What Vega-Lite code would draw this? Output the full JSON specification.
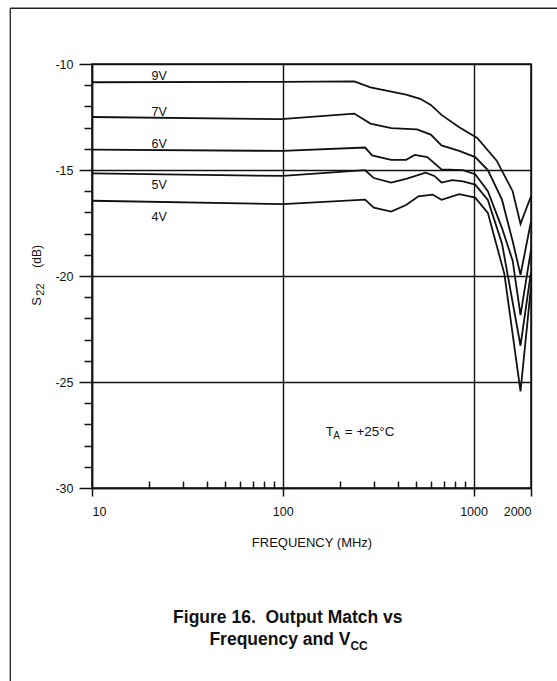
{
  "$schema": "https://vega.github.io/schema/vega-lite/v6.json",
  "width": 439,
  "height": 424,
  "autosize": {"type": "none"},
  "padding": {"left": 92, "top": 64, "right": 26, "bottom": 193},
  "background": "white",
  "config": {
    "font": "Liberation Sans",
    "view": {"stroke": "#111", "strokeWidth": 1.5},
    "axis": {
      "domainColor": "#111",
      "domainWidth": 1.5,
      "tickColor": "#111",
      "tickWidth": 1.5,
      "gridColor": "#111",
      "gridWidth": 1.4,
      "gridOpacity": 1,
      "labelColor": "#111",
      "labelFont": "Liberation Sans",
      "labelFontSize": 12.5,
      "titleColor": "#111",
      "titleFont": "Liberation Sans",
      "titleFontWeight": "normal"
    },
    "text": {"font": "Liberation Sans", "color": "#111"}
  },
  "datasets": {
    "curves": [
      {"vcc": "9V", "f": 10, "db": -10.86},
      {"vcc": "9V", "f": 100, "db": -10.84},
      {"vcc": "9V", "f": 237, "db": -10.82},
      {"vcc": "9V", "f": 288, "db": -11.1},
      {"vcc": "9V", "f": 443, "db": -11.44},
      {"vcc": "9V", "f": 525, "db": -11.64},
      {"vcc": "9V", "f": 597, "db": -11.93},
      {"vcc": "9V", "f": 679, "db": -12.4},
      {"vcc": "9V", "f": 841, "db": -12.98},
      {"vcc": "9V", "f": 1045, "db": -13.49},
      {"vcc": "9V", "f": 1322, "db": -14.56},
      {"vcc": "9V", "f": 1603, "db": -16.0},
      {"vcc": "9V", "f": 1762, "db": -17.54},
      {"vcc": "9V", "f": 2000, "db": -16.24},

      {"vcc": "7V", "f": 10, "db": -12.5},
      {"vcc": "7V", "f": 98, "db": -12.6},
      {"vcc": "7V", "f": 237, "db": -12.34},
      {"vcc": "7V", "f": 288, "db": -12.81},
      {"vcc": "7V", "f": 370, "db": -13.02},
      {"vcc": "7V", "f": 505, "db": -13.08},
      {"vcc": "7V", "f": 597, "db": -13.33},
      {"vcc": "7V", "f": 679, "db": -13.84},
      {"vcc": "7V", "f": 841, "db": -14.1},
      {"vcc": "7V", "f": 1020, "db": -14.39},
      {"vcc": "7V", "f": 1188, "db": -15.0},
      {"vcc": "7V", "f": 1409, "db": -16.4},
      {"vcc": "7V", "f": 1603, "db": -18.36},
      {"vcc": "7V", "f": 1762, "db": -19.94},
      {"vcc": "7V", "f": 2000, "db": -17.43},

      {"vcc": "6V", "f": 10, "db": -14.04},
      {"vcc": "6V", "f": 100, "db": -14.1},
      {"vcc": "6V", "f": 270, "db": -13.94},
      {"vcc": "6V", "f": 294, "db": -14.31},
      {"vcc": "6V", "f": 370, "db": -14.52},
      {"vcc": "6V", "f": 443, "db": -14.52},
      {"vcc": "6V", "f": 492, "db": -14.29},
      {"vcc": "6V", "f": 572, "db": -14.39},
      {"vcc": "6V", "f": 679, "db": -14.97},
      {"vcc": "6V", "f": 880, "db": -15.01},
      {"vcc": "6V", "f": 1020, "db": -15.2},
      {"vcc": "6V", "f": 1188, "db": -16.0},
      {"vcc": "6V", "f": 1409, "db": -17.74},
      {"vcc": "6V", "f": 1603, "db": -19.28},
      {"vcc": "6V", "f": 1762, "db": -21.85},
      {"vcc": "6V", "f": 2000, "db": -18.77},

      {"vcc": "5V", "f": 10, "db": -15.16},
      {"vcc": "5V", "f": 100, "db": -15.28},
      {"vcc": "5V", "f": 270, "db": -15.01},
      {"vcc": "5V", "f": 300, "db": -15.38},
      {"vcc": "5V", "f": 370, "db": -15.59},
      {"vcc": "5V", "f": 443, "db": -15.42},
      {"vcc": "5V", "f": 560, "db": -15.13},
      {"vcc": "5V", "f": 623, "db": -15.28},
      {"vcc": "5V", "f": 679, "db": -15.59},
      {"vcc": "5V", "f": 773, "db": -15.48},
      {"vcc": "5V", "f": 880, "db": -15.54},
      {"vcc": "5V", "f": 1020, "db": -15.69},
      {"vcc": "5V", "f": 1188, "db": -16.41},
      {"vcc": "5V", "f": 1409, "db": -18.46},
      {"vcc": "5V", "f": 1762, "db": -23.29},
      {"vcc": "5V", "f": 2000, "db": -19.8},

      {"vcc": "4V", "f": 10, "db": -16.45},
      {"vcc": "4V", "f": 100, "db": -16.61},
      {"vcc": "4V", "f": 270, "db": -16.4},
      {"vcc": "4V", "f": 300, "db": -16.78},
      {"vcc": "4V", "f": 370, "db": -16.96},
      {"vcc": "4V", "f": 443, "db": -16.65},
      {"vcc": "4V", "f": 514, "db": -16.24},
      {"vcc": "4V", "f": 610, "db": -16.16},
      {"vcc": "4V", "f": 679, "db": -16.41},
      {"vcc": "4V", "f": 841, "db": -16.14},
      {"vcc": "4V", "f": 1020, "db": -16.3},
      {"vcc": "4V", "f": 1188, "db": -17.02},
      {"vcc": "4V", "f": 1450, "db": -19.9},
      {"vcc": "4V", "f": 1762, "db": -25.44},
      {"vcc": "4V", "f": 2000, "db": -20.5}
    ],
    "curveLabels": [
      {"vcc": "9V", "f": 20.5, "db": -10.55},
      {"vcc": "7V", "f": 20.5, "db": -12.25},
      {"vcc": "6V", "f": 20.5, "db": -13.79},
      {"vcc": "5V", "f": 20.5, "db": -15.7},
      {"vcc": "4V", "f": 20.5, "db": -17.21}
    ]
  },
  "layer": [
    {
      "data": {"name": "curves"},
      "mark": {"type": "line", "color": "#111", "strokeWidth": 1.8},
      "encoding": {
        "x": {
          "field": "f", "type": "quantitative",
          "scale": {"type": "log", "domain": [10, 2000], "nice": false},
          "axis": {
            "orient": "bottom",
            "values": [10, 100, 1000, 2000],
            "format": "d",
            "tickSize": 8,
            "labelPadding": 9,
            "grid": true,
            "title": "FREQUENCY (MHz)",
            "titleFontSize": 13,
            "titleY": 54,
            "titleBaseline": "middle"
          }
        },
        "y": {
          "field": "db", "type": "quantitative",
          "scale": {"domain": [-30, -10], "nice": false, "zero": false},
          "axis": {
            "values": [-10, -15, -20, -25, -30],
            "labelExpr": "'-' + abs(datum.value)",
            "tickSize": 13,
            "labelPadding": 6,
            "grid": true,
            "title": null
          }
        },
        "detail": {"field": "vcc"}
      }
    },
    {
      "data": {"name": "curveLabels"},
      "mark": {"type": "text", "align": "left", "baseline": "middle", "fontSize": 12.5},
      "encoding": {
        "x": {
          "field": "f", "type": "quantitative",
          "scale": {"type": "log", "domain": [10, 2000], "nice": false},
          "axis": {
            "orient": "bottom",
            "values": [20, 30, 40, 50, 60, 70, 80, 90, 200, 300, 400, 500, 600, 700, 800, 900],
            "tickSize": -7,
            "domain": false,
            "labels": false,
            "grid": false,
            "title": null
          }
        },
        "y": {
          "field": "db", "type": "quantitative",
          "scale": {"domain": [-30, -10], "nice": false, "zero": false},
          "axis": {
            "orient": "left",
            "values": [-11, -12, -13, -14, -16, -17, -18, -19, -21, -22, -23, -24, -26, -27, -28, -29],
            "tickSize": 8,
            "domain": false,
            "labels": false,
            "grid": false,
            "title": null
          }
        },
        "text": {"field": "vcc"}
      }
    },
    {
      "data": {"values": [{}]},
      "encoding": {
        "x": {"datum": 5.17, "type": "quantitative", "scale": {"type": "log", "domain": [10, 2000], "nice": false}, "axis": null},
        "y": {"datum": -21.4, "type": "quantitative", "scale": {"domain": [-30, -10], "nice": false, "zero": false}, "axis": null}
      },
      "layer": [
        {"mark": {"type": "text", "text": "S", "angle": 270, "align": "left", "baseline": "middle", "fontSize": 13}},
        {"mark": {"type": "text", "text": "22", "angle": 270, "align": "left", "baseline": "middle", "fontSize": 11, "dx": 10, "dy": 4}},
        {"mark": {"type": "text", "text": "(dB)", "angle": 270, "align": "left", "baseline": "middle", "fontSize": 12, "dx": 38}}
      ]
    },
    {
      "data": {"values": [{}]},
      "encoding": {
        "x": {"datum": 168, "type": "quantitative", "scale": {"type": "log", "domain": [10, 2000], "nice": false}, "axis": null},
        "y": {"datum": -27.54, "type": "quantitative", "scale": {"domain": [-30, -10], "nice": false, "zero": false}, "axis": null}
      },
      "layer": [
        {"mark": {"type": "text", "text": "T", "align": "left", "baseline": "alphabetic", "fontSize": 13}},
        {"mark": {"type": "text", "text": "A", "align": "left", "baseline": "alphabetic", "fontSize": 10, "dx": 7.5, "dy": 3}},
        {"mark": {"type": "text", "text": "= +25°C", "align": "left", "baseline": "alphabetic", "fontSize": 13.5, "dx": 19}}
      ]
    },
    {
      "data": {"values": [{}]},
      "mark": {"type": "text", "text": "Figure 16.\u00a0 Output Match vs", "align": "center", "baseline": "alphabetic", "fontSize": 17.5, "fontWeight": "bold"},
      "encoding": {
        "x": {"datum": 106.3, "type": "quantitative", "scale": {"type": "log", "domain": [10, 2000], "nice": false}, "axis": null},
        "y": {"datum": -36.38, "type": "quantitative", "scale": {"domain": [-30, -10], "nice": false, "zero": false}, "axis": null}
      }
    },
    {
      "data": {"values": [{}]},
      "encoding": {
        "x": {"datum": 226.2, "type": "quantitative", "scale": {"type": "log", "domain": [10, 2000], "nice": false}, "axis": null},
        "y": {"datum": -37.42, "type": "quantitative", "scale": {"domain": [-30, -10], "nice": false, "zero": false}, "axis": null}
      },
      "layer": [
        {"mark": {"type": "text", "text": "Frequency and V", "align": "right", "baseline": "alphabetic", "fontSize": 17.5, "fontWeight": "bold"}},
        {"mark": {"type": "text", "text": "CC", "align": "left", "baseline": "alphabetic", "fontSize": 12, "fontWeight": "bold", "dy": 5}}
      ]
    },
    {
      "data": {"values": [{}]},
      "mark": {"type": "rule", "color": "#222", "strokeWidth": 1.3},
      "encoding": {
        "x": {"datum": 3.73, "type": "quantitative", "scale": {"type": "log", "domain": [10, 2000], "nice": false}, "axis": null},
        "x2": {"datum": 3000},
        "y": {"datum": -7.37, "type": "quantitative", "scale": {"domain": [-30, -10], "nice": false, "zero": false}, "axis": null}
      }
    },
    {
      "data": {"values": [{}]},
      "mark": {"type": "rule", "color": "#222", "strokeWidth": 1.3},
      "encoding": {
        "x": {"datum": 3.73, "type": "quantitative", "scale": {"type": "log", "domain": [10, 2000], "nice": false}, "axis": null},
        "y": {"datum": -7.37, "type": "quantitative", "scale": {"domain": [-30, -10], "nice": false, "zero": false}, "axis": null},
        "y2": {"datum": -40}
      }
    }
  ],
  "resolve": {"axis": {"x": "independent", "y": "independent"}}
}
